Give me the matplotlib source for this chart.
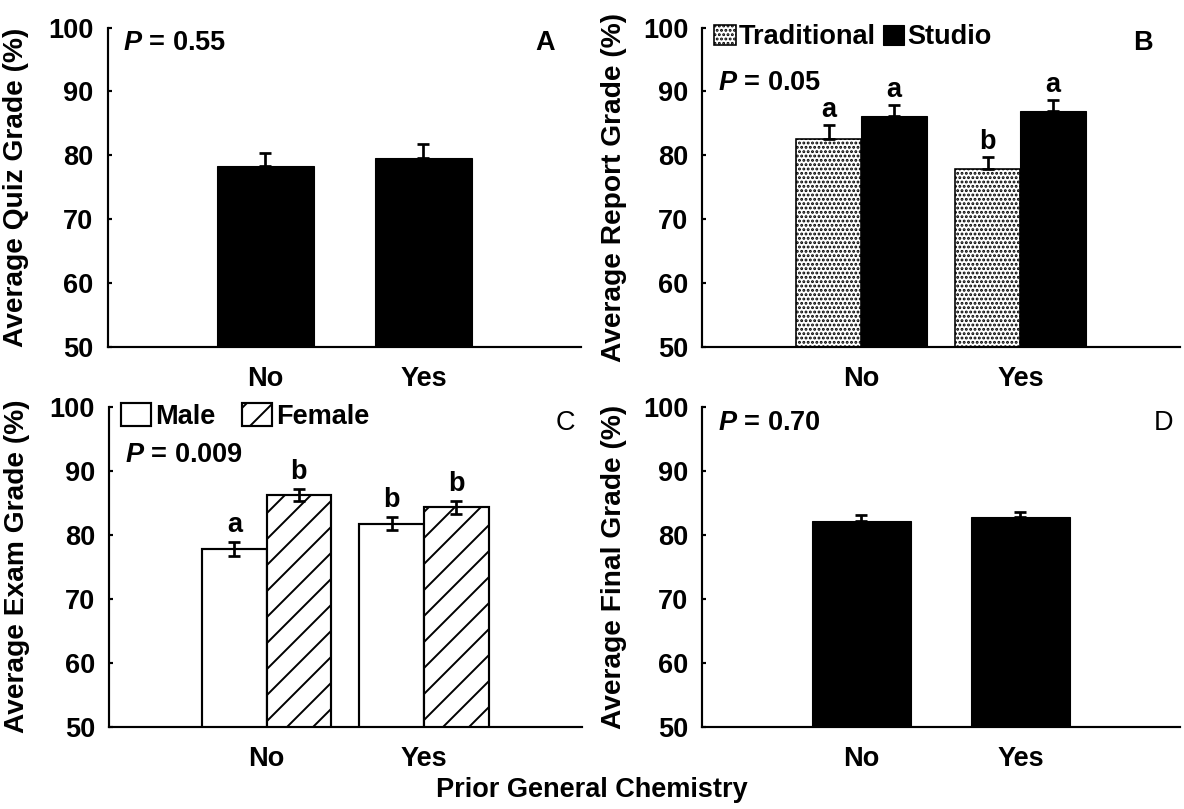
import numpy as np
import matplotlib
matplotlib.use('Agg')
from matplotlib import pyplot as plt

#%%
# values
groups = ['No', 'Yes']

quiz = [78.3, 79.6]
quiz_err = [2.1, 2.2]

report_trad = [82.6, 77.8]
report_trad_err = [2.2, 2.0]
report_studio = [86.1, 86.9]
report_studio_err = [1.7, 1.8]
report_letters_trad = ['a', 'b']
report_letters_studio = ['a', 'a']

exam_male = [77.8, 81.7]
exam_male_err = [1.1, 1.0]
exam_female = [86.2, 84.3]
exam_female_err = [0.9, 1.0]
exam_letters_male = ['a', 'b']
exam_letters_female = ['b', 'b']

final = [82.2, 82.7]
final_err = [0.9, 0.9]

p_values = ['0.55', '0.05', '0.009', '0.70']
p_heights = [97.5, 91.3, 92.4, 97.5]
panel_tags = ['A', 'B', 'C', 'D']
y_titles = ['Average Quiz Grade (%)', 'Average Report Grade (%)',
            'Average Exam Grade (%)', 'Average Final Grade (%)']

#%%
# dpi 78 so that a single '/' hatch gives ~13 px line spacing like the scan
DPI = 78
plt.rcParams['font.family'] = ['Liberation Sans', 'DejaVu Sans']
plt.rcParams['font.weight'] = 'bold'
plt.rcParams['axes.labelweight'] = 'bold'
plt.rcParams['font.size'] = 25
plt.rcParams['mathtext.fontset'] = 'custom'
plt.rcParams['mathtext.it'] = 'Liberation Sans:italic:bold'
plt.rcParams['mathtext.rm'] = 'Liberation Sans:bold'
plt.rcParams['hatch.linewidth'] = 1.8

fig = plt.figure(figsize=(1184 / DPI, 809 / DPI), dpi=DPI)

rects = [[0.0908, 0.5711, 0.4003, 0.3949],
         [0.5933, 0.5711, 0.4029, 0.3949],
         [0.0921, 0.1017, 0.3991, 0.3956],
         [0.5933, 0.1017, 0.4029, 0.3956]]
label_x = [-0.165, -0.158, -0.167, -0.158]
tag_x = [0.923, 0.923, 0.966, 0.966]
tag_weight = ['bold', 'bold', 'normal', 'normal']

x = np.arange(1, len(groups) + 1)
axes = []
for i, r in enumerate(rects):
    ax = fig.add_axes(r)
    ax.set_xlim(0, 3)
    ax.set_ylim(50, 100)
    ax.set_yticks([50, 60, 70, 80, 90, 100])
    ax.set_xticks(x)
    ax.set_xticklabels(groups)
    ax.tick_params(axis='y', direction='in', length=4, width=2, pad=13)
    ax.tick_params(axis='x', length=0, pad=18)
    for s in ['top', 'right']:
        ax.spines[s].set_visible(False)
    for s in ['left', 'bottom']:
        ax.spines[s].set_linewidth(2)
    ax.set_ylabel(y_titles[i], fontsize=26)
    ax.yaxis.set_label_coords(label_x[i], 0.5)
    ax.text(0.033, p_heights[i], r'$P$ = ' + p_values[i],
            transform=ax.get_yaxis_transform(), ha='left', va='center')
    ax.text(tag_x[i], 97.5, panel_tags[i], transform=ax.get_yaxis_transform(),
            ha='center', va='center', fontweight=tag_weight[i])
    axes.append(ax)

def up_err(ax, xs, vals, errs):
    ax.errorbar(xs, vals, yerr=[np.zeros(len(errs)), errs], fmt='none',
                ecolor='black', elinewidth=2.5, capsize=5.5, capthick=2.5, zorder=5)

# A - quiz
ax = axes[0]
ax.bar(x, quiz, width=0.62, color='black', edgecolor='black')
up_err(ax, x, quiz, quiz_err)

# B - report, traditional vs studio
ax = axes[1]
w = 0.41
b1 = ax.bar(x - w / 2, report_trad, width=w, color='white', edgecolor='black',
            hatch='...', linewidth=1.5, label='Traditional')
b2 = ax.bar(x + w / 2, report_studio, width=w, color='black', edgecolor='black',
            label='Studio')
up_err(ax, x - w / 2, report_trad, report_trad_err)
up_err(ax, x + w / 2, report_studio, report_studio_err)
for xi, v, e, t in zip(x - w / 2, report_trad, report_trad_err, report_letters_trad):
    ax.text(xi, v + e + 1.25, t, ha='center', va='baseline')
for xi, v, e, t in zip(x + w / 2, report_studio, report_studio_err, report_letters_studio):
    ax.text(xi, v + e + 1.25, t, ha='center', va='baseline')
ax.legend(handles=[b1, b2], loc='upper left', bbox_to_anchor=(0.025, 1.01), ncol=2,
          frameon=False, borderaxespad=0, borderpad=0, handlelength=0.8,
          handleheight=0.8, handletextpad=0.1, columnspacing=0.25)

# C - exam, male vs female
ax = axes[2]
c1 = ax.bar(x - w / 2, exam_male, width=w, color='white', edgecolor='black',
            linewidth=2, label='Male')
c2 = ax.bar(x + w / 2, exam_female, width=w, color='white', edgecolor='black',
            hatch='/', linewidth=2, label='Female')
ax.errorbar(x - w / 2, exam_male, yerr=exam_male_err, fmt='none', ecolor='black',
            elinewidth=2.5, capsize=5.5, capthick=2.5, zorder=5)
ax.errorbar(x + w / 2, exam_female, yerr=exam_female_err, fmt='none', ecolor='black',
            elinewidth=2.5, capsize=5.5, capthick=2.5, zorder=5)
for xi, v, e, t in zip(x - w / 2, exam_male, exam_male_err, exam_letters_male):
    ax.text(xi, v + e + 1.6, t, ha='center', va='baseline')
for xi, v, e, t in zip(x + w / 2, exam_female, exam_female_err, exam_letters_female):
    ax.text(xi, v + e + 1.6, t, ha='center', va='baseline')
ax.legend(handles=[c1, c2], loc='upper left', bbox_to_anchor=(0.025, 1.01), ncol=2,
          frameon=False, borderaxespad=0, borderpad=0, handlelength=1.1,
          handleheight=0.9, handletextpad=0.15, columnspacing=1.0)

# D - final
ax = axes[3]
ax.bar(x, final, width=0.62, color='black', edgecolor='black')
up_err(ax, x, final, final_err)

fig.text(592 / 1184, 1 - 790 / 809, 'Prior General Chemistry', ha='center', va='center',
         fontsize=25)

fig.savefig('out.png', dpi=DPI)
